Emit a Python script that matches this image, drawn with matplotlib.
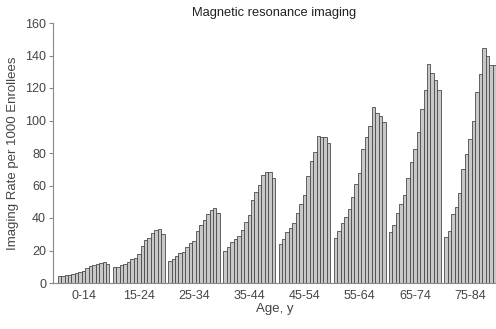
import matplotlib
matplotlib.use("Agg")
import matplotlib.pyplot as plt
import numpy as np

plt.rcParams['font.family'] = ['Liberation Sans', 'DejaVu Sans']

age_groups = ["0-14", "15-24", "25-34", "35-44", "45-54", "55-64", "65-74", "75-84"]

rate_0_14 = [4.1, 4.1, 4.9, 5.1, 5.7, 6.2, 6.8, 7.4, 9.4, 10.7, 11.1, 11.7, 12.3, 12.9, 11.5]
rate_15_24 = [9.8, 9.8, 11.1, 11.9, 12.7, 14.6, 15.6, 17.6, 23.0, 26.5, 27.5, 30.6, 32.6, 33.2, 29.9]
rate_25_34 = [13.7, 14.6, 16.6, 18.7, 19.3, 22.4, 24.4, 26.1, 32.2, 35.7, 38.8, 42.5, 44.9, 45.9, 42.9]
rate_35_44 = [19.7, 22.4, 25.0, 27.1, 29.1, 32.6, 37.3, 41.8, 51.1, 56.2, 60.3, 66.5, 68.1, 68.1, 64.4]
rate_45_54 = [24.2, 26.9, 31.2, 34.1, 37.1, 42.9, 48.8, 54.2, 66.1, 75.1, 80.8, 90.7, 89.8, 89.8, 86.0]
rate_55_64 = [27.7, 31.8, 37.1, 40.4, 45.7, 53.1, 60.7, 67.5, 82.3, 89.6, 96.6, 108.5, 104.4, 102.8, 99.3]
rate_65_74 = [31.6, 35.7, 42.9, 48.6, 54.2, 64.4, 74.3, 82.5, 93.1, 107.1, 118.8, 134.6, 129.0, 124.9, 118.8]
rate_75_84 = [28.1, 32.2, 42.5, 47.0, 55.6, 70.0, 79.4, 88.6, 99.7, 117.3, 128.6, 144.4, 139.7, 134.4, 134.4]

series = [rate_0_14, rate_15_24, rate_25_34, rate_35_44, rate_45_54, rate_55_64, rate_65_74, rate_75_84]
y_ticks = [0, 20, 40, 60, 80, 100, 120, 140, 160]

fig = plt.figure(figsize=(4.96, 3.29), dpi=100)
ax = fig.add_axes([53/496, 1-283/329, 443/496, 260/329])

pitch = 16
centers = []
for g, vals in enumerate(series):
    x = g * pitch + np.arange(len(vals))
    ax.bar(x, vals, width=1.0, color='#c8c8c8', edgecolor='#4a4a4a', linewidth=0.6)
    centers.append(g * pitch + (len(vals) - 1) / 2)

ax.set_xlim(-1.86, 7 * pitch + 14.5)
ax.set_ylim(0, 160)
ax.set_yticks(y_ticks)
ax.set_xticks(centers)
ax.set_xticklabels(age_groups)

for s in ['top', 'right']:
    ax.spines[s].set_visible(False)
for s in ['left', 'bottom']:
    ax.spines[s].set_color('#888888')
    ax.spines[s].set_linewidth(0.8)

ax.tick_params(axis='x', length=0, pad=5, labelsize=9, colors='#444444')
ax.tick_params(axis='y', length=3, width=0.8, color='#888888', pad=2, labelsize=9, labelcolor='#444444')

ax.set_title("Magnetic resonance imaging", fontsize=9.3, color='#222222', pad=5)
ax.set_xlabel("Age, y", fontsize=9.5, color='#444444', labelpad=1)
ax.set_ylabel("Imaging Rate per 1000 Enrollees", fontsize=9.5, color='#444444', labelpad=4)

fig.savefig("out.png", dpi=100)
